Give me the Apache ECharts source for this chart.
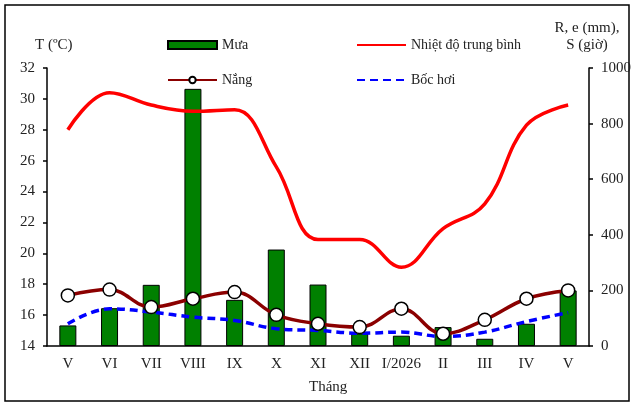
<!DOCTYPE html>
<html>
<head>
<meta charset="utf-8">
<script src="https://cdn.jsdelivr.net/npm/echarts@6/dist/echarts.min.js"></script>
<style>
  html, body { margin: 0; padding: 0; background: #fff; }
  #chart { width: 632px; height: 403px; }
</style>
</head>
<body>
<div id="chart"></div>
<script>
  // số liệu
  const months = ['V', 'VI', 'VII', 'VIII', 'IX', 'X', 'XI', 'XII', 'I/2026', 'II', 'III', 'IV', 'V'];
  const rain = [74, 136, 220, 925, 166, 347, 221, 45, 37, 68, 26, 80, 200];
  const temp = [28.0, 30.4, 29.6, 29.2, 29.3, 25.6, 20.9, 20.9, 19.1, 21.6, 23.2, 28.3, 29.6];
  const sun = [182, 203, 140, 170, 194, 112, 80, 68, 134, 44, 94, 170, 200];
  const evap = [80, 134, 122, 104, 92, 62, 56, 46, 50, 34, 50, 88, 120];

  const font = 'Liberation Serif';
  const txt = { fontFamily: font, fontSize: 15, color: '#222' };
  const noMark = { opacity: 0 };

  const chart = echarts.init(document.getElementById('chart'));
  chart.setOption({
    animation: false,
    grid: { left: 47, right: 43, top: 68, bottom: 57, outerBoundsMode: 'none' },
    legend: [
      {
        orient: 'vertical', left: 162, top: 33, itemGap: 21,
        itemWidth: 49, itemHeight: 8,
        textStyle: { fontFamily: font, fontSize: 14, color: '#222' },
        data: [{ name: 'Mưa', icon: 'rect' }, 'Nắng']
      },
      {
        orient: 'vertical', left: 351, top: 33, itemGap: 21,
        itemWidth: 49, itemHeight: 8,
        textStyle: { fontFamily: font, fontSize: 14, color: '#222' },
        data: [
          { name: 'Nhiệt độ trung bình', itemStyle: noMark },
          { name: 'Bốc hơi', itemStyle: noMark }
        ]
      }
    ],
    xAxis: {
      type: 'category',
      data: months,
      axisLine: { lineStyle: { color: '#000', width: 1.5 } },
      axisTick: { length: 5, lineStyle: { color: '#000', width: 1.5 } },
      axisLabel: Object.assign({ margin: 11, interval: 0 }, txt)
    },
    yAxis: [
      {
        type: 'value', min: 14, max: 32, interval: 2,
        axisLine: { show: true, lineStyle: { color: '#000', width: 1.5 } },
        axisTick: { show: true, length: 4, lineStyle: { color: '#000', width: 1.5 } },
        axisLabel: Object.assign({ margin: 12 }, txt),
        splitLine: { show: false }
      },
      {
        type: 'value', min: 0, max: 1000, interval: 200,
        axisLine: { show: true, lineStyle: { color: '#000', width: 1.5 } },
        axisTick: { show: true, length: 4, lineStyle: { color: '#000', width: 1.5 } },
        axisLabel: Object.assign({ margin: 12, formatter: (v) => String(v) }, txt),
        splitLine: { show: false }
      }
    ],
    series: [
      {
        name: 'Mưa', type: 'bar', yAxisIndex: 1, data: rain, barWidth: 17,
        itemStyle: { color: '#008000', borderColor: '#000', borderWidth: 1 }
      },
      {
        name: 'Bốc hơi', type: 'line', yAxisIndex: 1, data: evap, smooth: 0.4,
        symbol: 'none',
        lineStyle: { color: '#0000ff', width: 3.5, type: [8, 5] },
        itemStyle: { color: '#0000ff' }
      },
      {
        name: 'Nắng', type: 'line', yAxisIndex: 1, data: sun, smooth: 0.4,
        symbol: 'circle', symbolSize: 13,
        lineStyle: { color: '#8b0000', width: 3.5 },
        itemStyle: { color: '#fff', borderColor: '#000', borderWidth: 1.5 },
        z: 4
      },
      {
        name: 'Nhiệt độ trung bình', type: 'line', yAxisIndex: 0, data: temp, smooth: 0.4,
        symbol: 'none',
        lineStyle: { color: '#ff0000', width: 3.5 },
        itemStyle: { color: '#ff0000' },
        z: 3
      }
    ],
    graphic: [
      {
        type: 'rect', silent: true,
        shape: { x: 5, y: 5, width: 624, height: 396 },
        style: { fill: 'none', stroke: '#000', lineWidth: 1.5 }
      },
      {
        type: 'text', left: 35, top: 38,
        style: { text: 'T (ºC)', font: '15px "Liberation Serif"', fill: '#222' }
      },
      {
        type: 'text', x: 587, y: 20,
        style: { text: 'R, e (mm),\nS (giờ)', font: '15px "Liberation Serif"', fill: '#222', lineHeight: 17, align: 'center' }
      },
      {
        type: 'text', left: 309, top: 380,
        style: { text: 'Tháng', font: '15px "Liberation Serif"', fill: '#222' }
      }
    ]
  });
</script>
</body>
</html>
